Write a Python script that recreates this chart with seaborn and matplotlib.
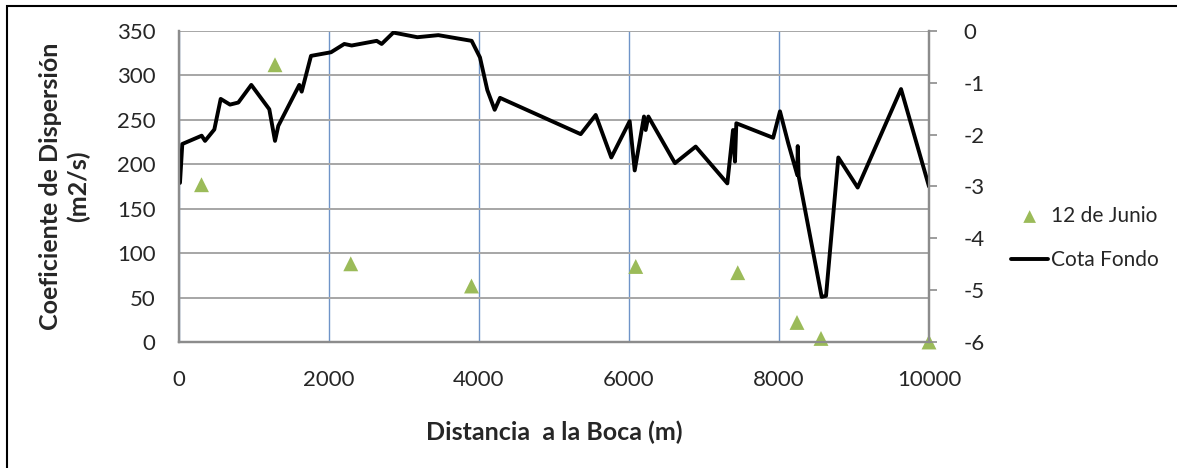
import matplotlib
matplotlib.use("Agg")
import matplotlib.pyplot as plt
import seaborn as sns
from matplotlib.patches import Rectangle

# Coeficiente de dispersión medido (eje izquierdo)
dist_junio = [300, 1280, 2290, 3900, 6090, 7450, 8240, 8560, 10000]
coef_junio = [177, 312, 88, 63, 85, 78, 22, 4, 0]

# Perfil de cota de fondo (eje derecho)
dist_fondo = [13, 44, 302, 347, 471, 556, 680, 791, 964, 1204, 1280, 1324,
              1604, 1636, 1760, 2027, 2204, 2302, 2636, 2702, 2858, 3178,
              3458, 3902, 4013, 4111, 4209, 4280, 5356, 5556, 5764, 6009,
              6076, 6200, 6222, 6258, 6613, 6889, 7311, 7387, 7413, 7431,
              7922, 8013, 8124, 8244, 8250, 8262, 8569, 8627, 8791, 9049,
              9627, 10000]
cota_fondo = [-2.93, -2.18, -2.02, -2.12, -1.90, -1.31, -1.42, -1.38, -1.04,
              -1.51, -2.12, -1.83, -1.04, -1.17, -0.48, -0.41, -0.25, -0.28,
              -0.19, -0.25, -0.03, -0.12, -0.08, -0.19, -0.51, -1.14, -1.52,
              -1.29, -1.99, -1.62, -2.44, -1.74, -2.69, -1.65, -1.91, -1.65,
              -2.55, -2.23, -2.94, -1.91, -2.52, -1.78, -2.06, -1.55, -2.17,
              -2.78, -2.22, -2.80, -5.13, -5.11, -2.44, -3.02, -1.12, -3.00]

x_ticks = [0, 2000, 4000, 6000, 8000, 10000]
y_left_ticks = [0, 50, 100, 150, 200, 250, 300, 350]
y_right_ticks = [0, -1, -2, -3, -4, -5, -6]

sns.set_style("white")
plt.rcParams["font.family"] = ["Lato", "DejaVu Sans"]
plt.rcParams["axes.unicode_minus"] = False

GRIS = "#8c8c8c"
VERDE = "#9BBB59"
TAM = 16

fig = plt.figure(figsize=(11.77, 4.68), dpi=100)
ax = fig.add_axes([179 / 1177, 1 - 342 / 468, 750 / 1177, 311 / 468])
ax2 = ax.twinx()

sns.scatterplot(x=dist_junio, y=coef_junio, ax=ax, marker="^", s=115,
                color=VERDE, edgecolor="none", clip_on=False, zorder=3,
                label="12 de Junio")
sns.lineplot(x=dist_fondo, y=cota_fondo, ax=ax2, color="black", lw=2.8,
             sort=False, estimator=None, label="Cota Fondo")

ax.set_xlim(0, 10000)
ax.set_ylim(0, 350)
ax2.set_ylim(-6, 0)
ax.set_xticks(x_ticks)
ax.set_yticks(y_left_ticks)
ax2.set_yticks(y_right_ticks)

# rejilla: horizontales grises, verticales azules
ax.set_axisbelow(True)
ax.yaxis.grid(True, color="#a6a6a6", lw=1.4)
ax.xaxis.grid(True, color="#6f94c8", lw=1.0)

for a in (ax, ax2):
    a.spines["top"].set_visible(False)
    for lado in ("left", "bottom", "right"):
        a.spines[lado].set_color(GRIS)
        a.spines[lado].set_linewidth(1.6)

ax.tick_params(axis="x", length=0, pad=20, labelsize=TAM)
ax.tick_params(axis="y", length=0, pad=17, labelsize=TAM)
ax2.tick_params(axis="y", length=6, width=1.2, color=GRIS, direction="out",
                pad=19, labelsize=TAM)

ax.set_xlabel("Distancia  a la Boca (m)", fontsize=18, fontweight="bold")
ax.xaxis.set_label_coords(0.5, -0.29)
ax.xaxis.label.set_va("center")
ax.set_ylabel("Coeficiente de Dispersión\n(m2/s)", fontsize=18,
              fontweight="bold", linespacing=1.25)
ax.yaxis.set_label_coords(-0.153, 0.5)
ax.yaxis.label.set_va("center")

h1, l1 = ax.get_legend_handles_labels()
h2, l2 = ax2.get_legend_handles_labels()
ax.get_legend().remove()
ax2.get_legend().remove()
fig.legend(h1 + h2, l1 + l2, loc="center left",
           bbox_to_anchor=(1001 / 1177, 1 - 238 / 468), frameon=False,
           fontsize=15, handlelength=1.75, handletextpad=0.15,
           labelspacing=1.15, borderpad=0, markerscale=0.85)

# marco exterior del gráfico
fig.patches.append(Rectangle((7 / 1177, -0.1), 1.2, 1 - 6 / 468 + 0.1,
                             transform=fig.transFigure, fill=False,
                             edgecolor="black", lw=1.5))

fig.savefig("out.png", dpi=100)
